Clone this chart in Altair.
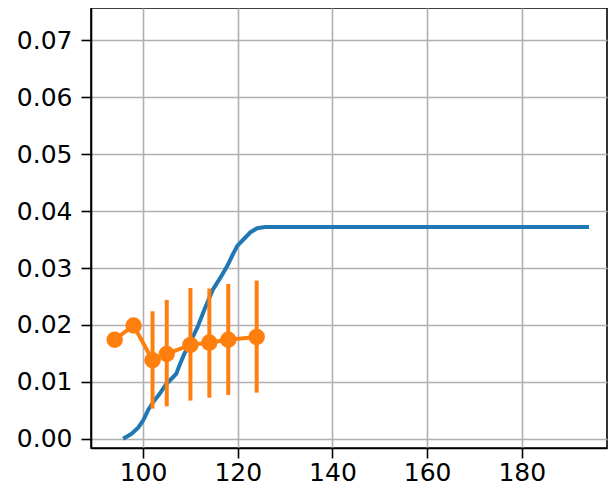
import altair as alt
import pandas as pd

# Blue curve
blue_x = [95.8, 97.6, 99.0, 100.0, 101.05, 102.1, 103.5, 104.9, 105.95, 107.0, 107.7,
          108.7, 110.1, 111.5, 113.0, 114.8, 116.4, 117.8, 118.85, 119.9, 121.3,
          122.7, 124.1, 125.8, 194.2]
blue_y = [0.0, 0.0009, 0.0020, 0.0032, 0.0050, 0.0064, 0.0079, 0.0096, 0.0105, 0.0114,
          0.0129, 0.0149, 0.0172, 0.0196, 0.0228, 0.0263, 0.0284, 0.0304, 0.0322,
          0.0339, 0.0351, 0.0363, 0.0370, 0.0372, 0.0372]

# Orange points with error bars
orange_x = [94, 98, 102, 105, 110, 114, 118, 124]
orange_y = [0.0174, 0.0199, 0.0138, 0.0149, 0.0165, 0.0169, 0.0174, 0.0179]
err_lo = [None, None, 0.0053, 0.0057, 0.0067, 0.0072, 0.0077, 0.0081]
err_hi = [None, None, 0.0224, 0.0244, 0.0265, 0.0264, 0.0272, 0.0278]

x_ticks = [100, 120, 140, 160, 180]
y_ticks = [0.0, 0.01, 0.02, 0.03, 0.04, 0.05, 0.06, 0.07]

blue_df = pd.DataFrame({"x": blue_x, "y": blue_y})
orange_df = pd.DataFrame({"x": orange_x, "y": orange_y})
err_df = pd.DataFrame({"x": orange_x, "lo": err_lo, "hi": err_hi}).dropna()

BLUE = "#1f77b4"
ORANGE = "#ff7f0e"

xscale = alt.Scale(domain=[89, 198], nice=False, zero=False)
yscale = alt.Scale(domain=[-0.00163, 0.0757], nice=False, zero=False)

xaxis = alt.Axis(values=x_ticks, format="d", title=None, labelPadding=2)
yaxis = alt.Axis(values=y_ticks, format=".2f", title=None, labelPadding=9)

blue = alt.Chart(blue_df).mark_line(color=BLUE, strokeWidth=4).encode(
    x=alt.X("x:Q", scale=xscale, axis=xaxis),
    y=alt.Y("y:Q", scale=yscale, axis=yaxis),
)

rules = alt.Chart(err_df).mark_rule(color=ORANGE, strokeWidth=4).encode(
    x=alt.X("x:Q", scale=xscale),
    y=alt.Y("lo:Q", scale=yscale),
    y2="hi:Q",
)

oline = alt.Chart(orange_df).mark_line(color=ORANGE, strokeWidth=4).encode(
    x=alt.X("x:Q", scale=xscale),
    y=alt.Y("y:Q", scale=yscale),
)

opts = alt.Chart(orange_df).mark_circle(color=ORANGE, size=270, opacity=1).encode(
    x=alt.X("x:Q", scale=xscale),
    y=alt.Y("y:Q", scale=yscale),
)

chart = alt.layer(blue, rules, oline, opts).properties(
    width=516,
    height=440,
    autosize=alt.AutoSizeParams(type="none"),
    padding={"left": 83, "top": 0, "right": 1, "bottom": 37},
).configure_view(
    stroke="black", strokeWidth=1.6
).configure_axis(
    domainColor="black", domainWidth=1.6,
    tickColor="black", tickWidth=1.6, tickSize=10,
    labelFont="DejaVu Sans", labelFontSize=25, labelColor="black",
    gridColor="#b0b0b0", gridWidth=1.6,
)

chart.save("out.html", embed_options={"renderer": "svg", "actions": False})
